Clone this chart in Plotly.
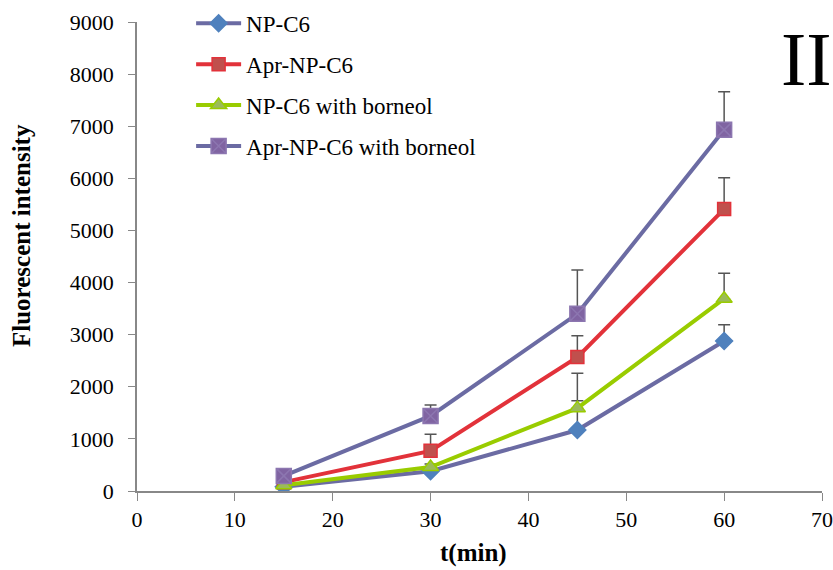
import plotly.graph_objects as go

t = [15, 30, 45, 60]
np_c6 = [80, 380, 1170, 2880]
np_c6_err = [30, 80, 560, 310]
apr_np_c6 = [170, 770, 2570, 5410]
apr_np_c6_err = [40, 320, 410, 600]
np_c6_b = [110, 460, 1590, 3690]
np_c6_b_err = [30, 60, 670, 490]
apr_np_c6_b = [290, 1440, 3400, 6930]
apr_np_c6_b_err = [50, 210, 840, 730]

series = [
    ("NP-C6", np_c6, np_c6_err, "#6B6BA3", "diamond", "#4F81BD", "#4F81BD", 13),
    ("Apr-NP-C6", apr_np_c6, apr_np_c6_err, "#E2323A", "square", "#C0504D", "#E2323A", 13),
    ("NP-C6 with borneol", np_c6_b, np_c6_b_err, "#99CC00", "triangle-up", "#9BBB59", "#99CC00", 14),
    ("Apr-NP-C6 with borneol", apr_np_c6_b, apr_np_c6_b_err, "#6B6BA3", "square-x", "#8064A2", "#8C76B0", 15),
]

fig = go.Figure()
for i, (name, y, err, lc, sym, mc, mlc, ms) in enumerate(series):
    fig.add_trace(go.Scatter(
        x=t, y=y, name=name, mode="lines+markers", legendgroup=f"g{i}",
        line=dict(color=lc, width=4),
        marker=dict(symbol=sym, size=ms, color=mc, line=dict(color=mlc, width=1.5)),
        error_y=dict(type="data", array=err, arrayminus=[0] * len(err), symmetric=False,
                     color="#555555", thickness=1.5, width=6),
    ))

font_serif = "Liberation Serif, Times New Roman, serif"
fig.update_layout(
    width=833, height=570,
    margin=dict(l=137, r=11, t=22, b=79, autoexpand=False),
    paper_bgcolor="white", plot_bgcolor="white",
    font=dict(family=font_serif, size=22, color="black"),
    showlegend=True,
    legend=dict(x=0.079, y=1.043, xanchor="left", yanchor="top",
                font=dict(family=font_serif, size=23, color="black"),
                bgcolor="rgba(0,0,0,0)", itemwidth=45, tracegroupgap=8),
    xaxis=dict(range=[0, 70], dtick=10, showgrid=False, zeroline=False, automargin=False,
               showline=True, linecolor="#888888", linewidth=1.5,
               ticks="outside", ticklen=8, tickcolor="#888888",
               tickfont=dict(size=22)),
    yaxis=dict(range=[0, 9000], dtick=1000, showgrid=False, zeroline=False, automargin=False,
               showline=True, linecolor="#888888", linewidth=1.5,
               ticks="outside", ticklen=7, tickcolor="#888888", ticklabelstandoff=10,
               tickfont=dict(size=22)),
    annotations=[
        dict(text="<b>Fluorescent intensity</b>", textangle=-90, x=(22 - 137) / 685, y=(491 - 236) / 469,
             xref="paper", yref="paper", xanchor="center", yanchor="middle", showarrow=False,
             font=dict(family=font_serif, size=25, color="black")),
        dict(text="<b>t(min)</b>", x=(473 - 137) / 685, y=(491 - 553) / 469,
             xref="paper", yref="paper", xanchor="center", yanchor="middle", showarrow=False,
             font=dict(family=font_serif, size=25, color="black")),
        dict(text="II", x=(806 - 137) / 685, y=(491 - 58.5) / 469,
             xref="paper", yref="paper", xanchor="center", yanchor="middle", showarrow=False,
             font=dict(family=font_serif, size=76, color="black")),
    ],
)

fig.write_html("out.html")
